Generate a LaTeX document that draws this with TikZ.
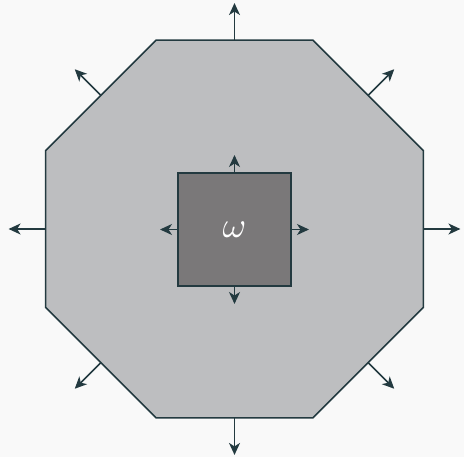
\documentclass[tikz,border=0pt]{standalone}
\usepackage{amsmath,amssymb}
\usepackage{graphicx}
\usetikzlibrary{arrows.meta, calc, shapes.geometric}
\definecolor{slate}{RGB}{35,58,64}
\definecolor{lightgrey}{RGB}{189,190,192}
\definecolor{darkgrey}{RGB}{122,120,121}
\definecolor{paper}{RGB}{249,249,249}

\begin{document}
\begin{tikzpicture}[x=1pt, y=-1pt, line width=1.6pt,
  normal/.style={-{Stealth[length=12pt,width=11pt,inset=3.5pt]}, slate, line width=1.5pt}]
  \fill[paper] (0,0) rectangle (464,457);
  \useasboundingbox (0,0) rectangle (464,457);
  % outer domain and its normals
  \node[regular polygon, regular polygon sides=8, minimum size=409pt, inner sep=0pt, outer sep=0pt, draw=slate, fill=lightgrey] (domain) at (234.5,229) {};
  \foreach \i in {1,...,8} \draw[normal] (domain.side \i) -- ($(domain.side \i)!-37pt!(domain.center)$);
  % inner hole
  \node[minimum size=113pt, inner sep=0pt, outer sep=0pt, draw=slate, fill=darkgrey, text=white] (omega) at (234.5,229.5) {\scalebox{3.6}{$\omega$}};
  \foreach \a in {north,south,east,west} \draw[normal] (omega.\a) -- ($(omega.\a)!-18pt!(omega.center)$);
\end{tikzpicture}
\end{document}
